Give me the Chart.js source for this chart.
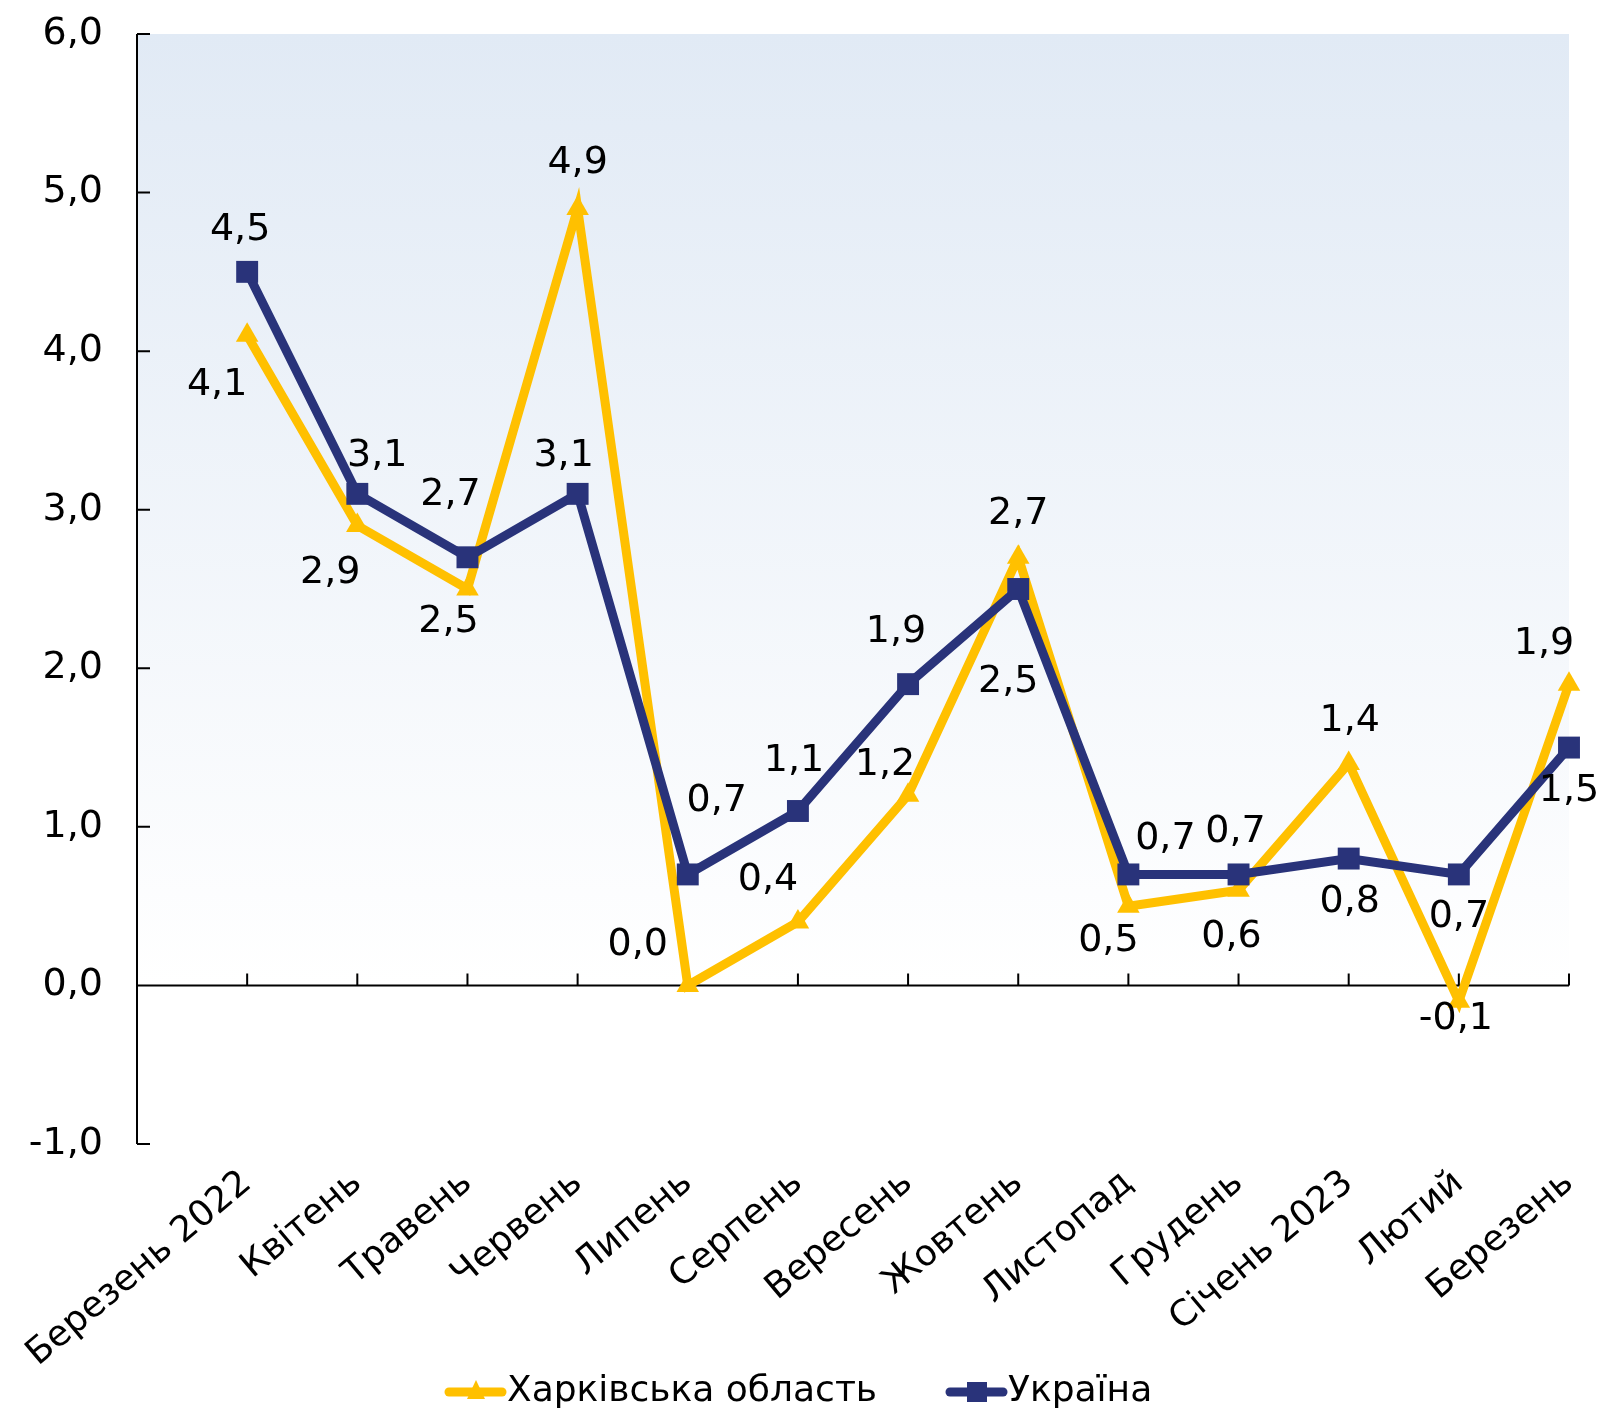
<!DOCTYPE html>
<html>
<head>
<meta charset="utf-8">
<script src="https://cdn.jsdelivr.net/npm/chart.js@4.4.0/dist/chart.umd.min.js"></script>
<style>
  html, body { margin: 0; padding: 0; background: #fff; }
  #wrap { width: 1603px; height: 1414px; }
</style>
</head>
<body>
<div id="wrap"><canvas id="chart" width="1603" height="1414"></canvas></div>
<script>
// data
var months = ['Березень 2022', 'Квітень', 'Травень', 'Червень', 'Липень', 'Серпень',
  'Вересень', 'Жовтень', 'Листопад', 'Грудень', 'Січень 2023', 'Лютий', 'Березень'];
var kharkiv = [4.1, 2.9, 2.5, 4.9, 0.0, 0.4, 1.2, 2.7, 0.5, 0.6, 1.4, -0.1, 1.9];
var ukraine = [4.5, 3.1, 2.7, 3.1, 0.7, 1.1, 1.9, 2.5, 0.7, 0.7, 0.8, 0.7, 1.5];
var yMin = -1;
var yMax = 6;

var YELLOW = '#ffc000';
var NAVY = '#29337a';
var FONT = '"DejaVu Sans", Verdana, sans-serif';

// label placement (px from the point)
var kharkivShift = [[-30, 50], [-27, 48], [-19, 33], [0, -45], [-50, -40], [-30, -42], [-23, -30],
  [0, -43], [-20, 35], [-7, 47], [1, -42], [-3, 18], [-25, -40]];
var ukraineShift = [[-7, -42], [20, -38], [-17, -62], [-14, -38], [29, -73], [-4, -50], [-12, -52],
  [-10, 93], [37, -35], [-3, -42], [1, 44], [0, 43], [0, 44]];

function fmt(v) {
  return v.toFixed(1).replace('.', ',');
}

function toPoints(arr) {
  return arr.map(function(v, i) { return {x: i, y: v}; });
}

var chartDeco = {
  id: 'chartDeco',
  beforeDatasetsDraw: function(chart) {
    var ctx = chart.ctx;
    var a = chart.chartArea;
    var xs = chart.scales.x;
    var ys = chart.scales.y;
    var y0 = ys.getPixelForValue(0);

    // background
    var g = ctx.createLinearGradient(0, a.top, 0, y0);
    g.addColorStop(0, '#e1eaf5');
    g.addColorStop(1, '#ffffff');
    ctx.save();
    ctx.fillStyle = g;
    ctx.fillRect(a.left, a.top, a.right - a.left, y0 - a.top);

    ctx.strokeStyle = '#000';
    ctx.lineWidth = 2;
    ctx.beginPath();
    ctx.moveTo(a.left, a.top);
    ctx.lineTo(a.left, a.bottom);
    for (var v = yMin; v <= yMax; v++) {
      var py = ys.getPixelForValue(v);
      ctx.moveTo(a.left, py);
      ctx.lineTo(a.left + 13, py);
    }
    ctx.moveTo(a.left, y0);
    ctx.lineTo(a.right, y0);
    for (var i = 0; i < months.length; i++) {
      var px = xs.getPixelForValue(i);
      ctx.moveTo(px, y0);
      ctx.lineTo(px, y0 - 12);
    }
    ctx.stroke();
    ctx.restore();
  },
  afterDatasetsDraw: function(chart) {
    var ctx = chart.ctx;
    var shifts = [kharkivShift, ukraineShift];
    ctx.save();
    ctx.font = '38px ' + FONT;
    ctx.fillStyle = '#000';
    ctx.textAlign = 'center';
    ctx.textBaseline = 'middle';
    chart.data.datasets.forEach(function(ds, di) {
      var meta = chart.getDatasetMeta(di);
      meta.data.forEach(function(pt, i) {
        var s = shifts[di][i];
        ctx.fillText(fmt(ds.data[i].y), pt.x + s[0], pt.y + s[1]);
      });
    });
    ctx.restore();
  },
  afterDraw: function(chart) {
    var ctx = chart.ctx;
    var y = 1392;
    var items = [
      {x: 445, color: YELLOW, style: 'triangle', text: chart.data.datasets[0].label},
      {x: 946, color: NAVY, style: 'rect', text: chart.data.datasets[1].label}
    ];
    ctx.save();
    items.forEach(function(it) {
      ctx.strokeStyle = it.color;
      ctx.fillStyle = it.color;
      ctx.lineWidth = 9;
      ctx.lineCap = 'round';
      ctx.beginPath();
      ctx.moveTo(it.x + 4, y);
      ctx.lineTo(it.x + 57, y);
      ctx.stroke();
      var cx = it.x + 31;
      ctx.beginPath();
      if (it.style === 'rect') {
        ctx.rect(cx - 10, y - 10, 20, 20);
      } else {
        ctx.moveTo(cx, y - 12);
        ctx.lineTo(cx + 9, y + 7);
        ctx.lineTo(cx - 9, y + 7);
        ctx.closePath();
      }
      ctx.fill();
      ctx.fillStyle = '#000';
      ctx.font = '36px ' + FONT;
      ctx.textAlign = 'left';
      ctx.textBaseline = 'middle';
      ctx.fillText(it.text, it.x + 62, y);
    });
    ctx.restore();
  }
};

var config = {
  type: 'line',
  data: {
    datasets: [{
      label: 'Харківська область',
      data: toPoints(kharkiv),
      borderColor: YELLOW,
      backgroundColor: YELLOW,
      borderWidth: 9,
      pointStyle: 'triangle',
      pointRadius: 13,
      pointBorderWidth: 0,
      pointBackgroundColor: YELLOW,
      tension: 0,
      clip: false,
      order: 2
    }, {
      label: 'Україна',
      data: toPoints(ukraine),
      borderColor: NAVY,
      backgroundColor: NAVY,
      borderWidth: 9,
      pointStyle: 'rect',
      pointRadius: 15.5,
      pointBorderWidth: 0,
      pointBackgroundColor: NAVY,
      tension: 0,
      clip: false,
      order: 1
    }]
  },
  options: {
    responsive: false,
    animation: false,
    devicePixelRatio: 1,
    layout: { padding: { top: 34, left: 0, right: 34, bottom: 0 } },
    plugins: {
      legend: { display: false },
      tooltip: { enabled: false }
    },
    scales: {
      x: {
        type: 'linear',
        min: -1,
        max: 12,
        grid: { display: false },
        border: { display: false },
        ticks: {
          stepSize: 1,
          autoSkip: false,
          maxRotation: 40,
          minRotation: 40,
          padding: 10,
          color: '#000',
          font: { family: FONT, size: 36 },
          callback: function(v) { return months[v] || ''; }
        },
        afterFit: function(s) {
          s.height = 270;
          s.paddingLeft = 0;
          s.paddingRight = 0;
        }
      },
      y: {
        min: yMin,
        max: yMax,
        grid: { display: false, drawTicks: false },
        border: { display: false },
        ticks: {
          stepSize: 1,
          padding: 34,
          color: '#000',
          font: { family: FONT, size: 38 },
          callback: function(v) { return fmt(v); }
        },
        afterFit: function(s) {
          s.width = 137;
          s.paddingTop = 0;
          s.paddingBottom = 0;
        }
      }
    }
  },
  plugins: [chartDeco]
};

window.myChart = new Chart(document.getElementById('chart').getContext('2d'), config);
</script>
</body>
</html>
